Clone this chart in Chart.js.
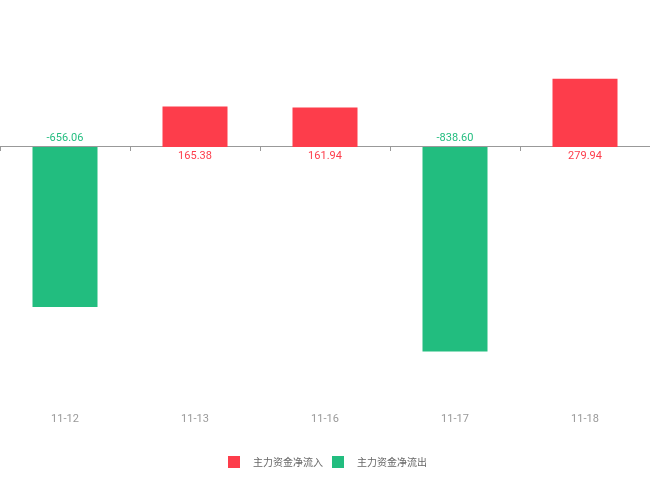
<!DOCTYPE html>
<html>
<head>
<meta charset="utf-8">
<script src="https://cdn.jsdelivr.net/npm/chart.js@4.4.0/dist/chart.umd.min.js"></script>
<style>
html,body{margin:0;padding:0;background:#fff;}
#wrap{width:650px;height:488px;position:relative;}
</style>
</head>
<body>
<div id="wrap"><canvas id="c" width="650" height="488"></canvas></div>
<script>
const categories = ['11-12', '11-13', '11-16', '11-17', '11-18'];
const inflowValues = [null, 165.38, 161.94, null, 279.94];
const outflowValues = [-656.06, null, null, -838.60, null];
const seriesNames = ['主力资金净流入', '主力资金净流出'];

const RED = '#fd3d4b';
const GREEN = '#22bd7f';
const FONT = '"Noto Sans CJK SC", "Noto Sans", sans-serif';
const NUMFONT = '"Liberation Sans Narrow", "Roboto", sans-serif';

const valueLabels = {
  id: 'valueLabels',
  afterDatasetsDraw(chart) {
    const ctx = chart.ctx;
    const y0 = chart.scales.y.getPixelForValue(0);
    ctx.save();
    ctx.font = '11px ' + NUMFONT;
    ctx.textAlign = 'center';
    chart.data.datasets.forEach((ds, di) => {
      const meta = chart.getDatasetMeta(di);
      meta.data.forEach((el, i) => {
        const v = ds.data[i];
        if (v === null || v === undefined) return;
        ctx.fillStyle = v >= 0 ? RED : GREEN;
        if (v >= 0) {
          ctx.textBaseline = 'top';
          ctx.fillText(v.toFixed(2), el.x, y0 + 4);
        } else {
          ctx.textBaseline = 'bottom';
          ctx.fillText(v.toFixed(2), el.x, y0 - 3);
        }
      });
    });
    ctx.restore();
  }
};

const customLegend = {
  id: 'customLegend',
  afterDraw(chart) {
    const ctx = chart.ctx;
    ctx.save();
    ctx.font = '10px ' + FONT;
    ctx.textBaseline = 'middle';
    ctx.textAlign = 'left';
    const box = 12, gapText = 13, gapItem = 9;
    const items = chart.data.datasets.map(ds => ({
      text: ds.label, color: ds.backgroundColor, w: ctx.measureText(ds.label).width
    }));
    let total = 0;
    items.forEach((it, i) => { total += box + gapText + it.w + (i ? gapItem : 0); });
    let x = Math.round(chart.width / 2 - total / 2) + 2;
    const cy = 462;
    items.forEach((it, i) => {
      if (i) x += gapItem;
      ctx.fillStyle = it.color;
      ctx.fillRect(x, cy - box / 2, box, box);
      x += box + gapText;
      ctx.fillStyle = '#666';
      ctx.fillText(it.text, x, cy);
      x += it.w;
    });
    ctx.restore();
  }
};

new Chart(document.getElementById('c'), {
  type: 'bar',
  data: {
    labels: categories,
    datasets: [
      { label: seriesNames[0], data: inflowValues, backgroundColor: RED, borderWidth: 0 },
      { label: seriesNames[1], data: outflowValues, backgroundColor: GREEN, borderWidth: 0 }
    ]
  },
  plugins: [valueLabels, customLegend],
  options: {
    responsive: false,
    animation: false,
    devicePixelRatio: 1,
    layout: { padding: { left: 0, right: 0, top: 25, bottom: 40 } },
    datasets: { bar: { barPercentage: 0.5, categoryPercentage: 1 } },
    scales: {
      x: {
        stacked: true,
        position: 'bottom',
        grid: { display: false, drawTicks: false },
        border: { display: false },
        ticks: { color: '#999', font: { size: 11, family: NUMFONT }, padding: 22, maxRotation: 0 }
      },
      x2: {
        type: 'category',
        labels: categories,
        position: { y: 0 },
        offset: true,
        grid: { offset: true, drawOnChartArea: false, drawTicks: true, tickLength: 4, color: '#999' },
        border: { display: true, color: '#999', width: 1 },
        ticks: { display: false }
      },
      y: {
        stacked: true,
        min: -1000,
        max: 500,
        display: false
      }
    },
    plugins: {
      legend: { display: false },
      tooltip: { enabled: false }
    }
  }
});
</script>
</body>
</html>
